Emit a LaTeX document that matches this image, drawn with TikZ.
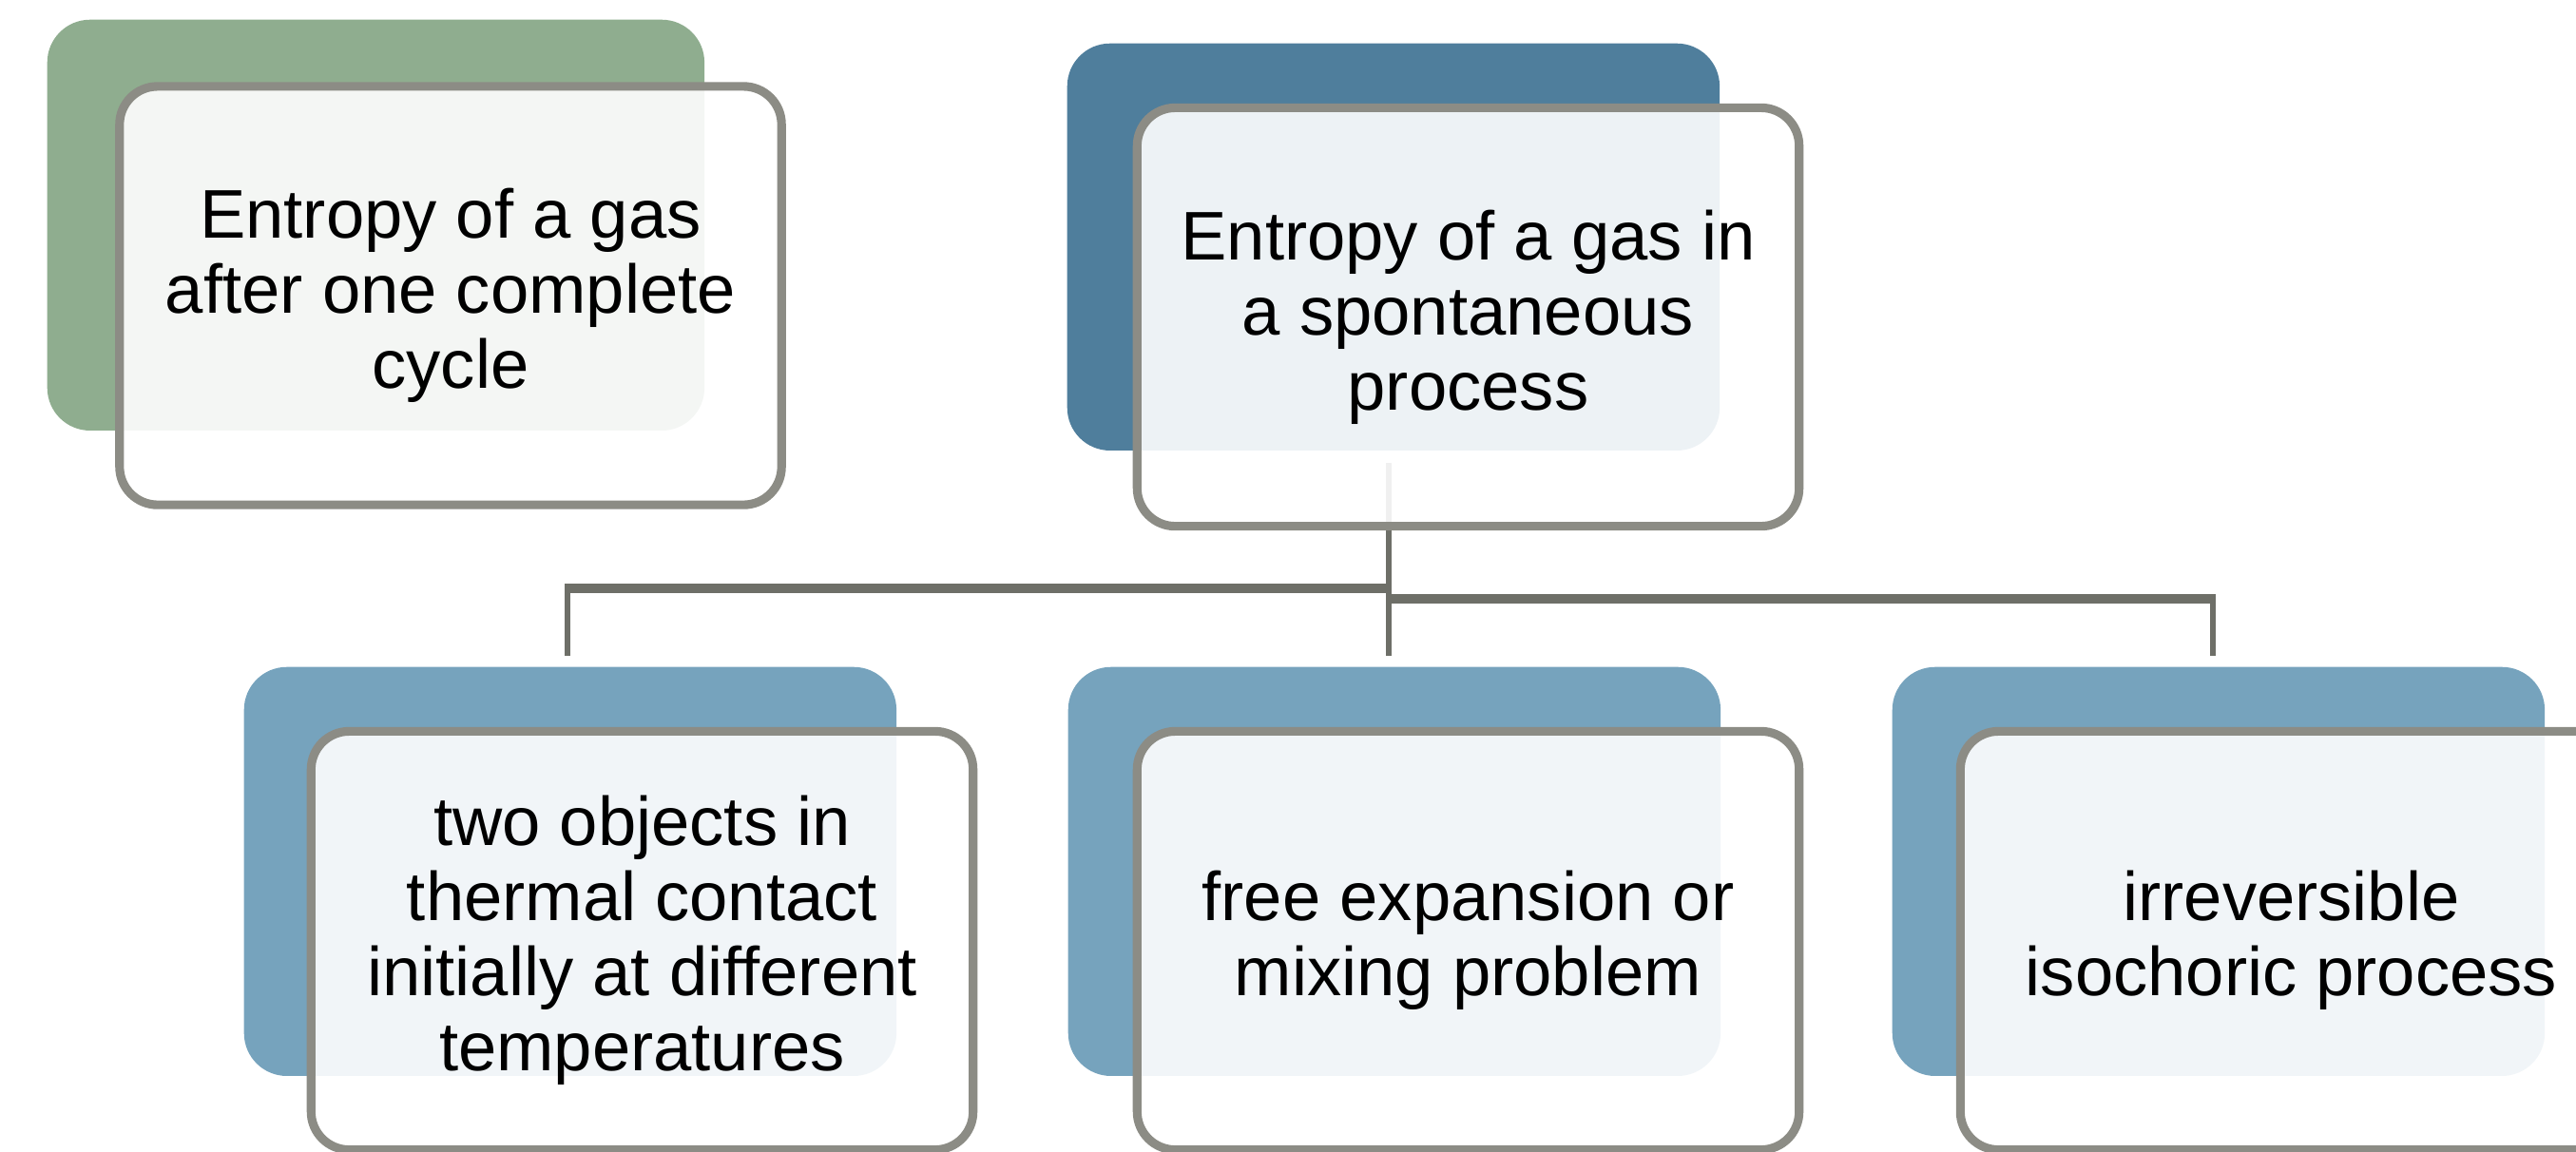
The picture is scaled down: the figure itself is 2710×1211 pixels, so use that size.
\documentclass[tikz,border=0pt]{standalone}
\usepackage{fontspec}
\setmainfont{Liberation Sans}
\usetikzlibrary{calc}
\definecolor{greenbk}{RGB}{143,173,143}
\definecolor{bluedk}{RGB}{79,126,156}
\definecolor{bluelt}{RGB}{118,163,189}
\definecolor{edgegray}{RGB}{140,140,133}
\definecolor{linkgray}{RGB}{110,111,104}
\tikzset{
 backbox/.style={rectangle, rounded corners=0.45cm, minimum width=6.86cm, minimum height=4.3cm, anchor=north west, inner sep=0pt, draw=none},
 frontbox/.style={rectangle, rounded corners=0.4cm, minimum width=6.96cm, minimum height=4.4cm, draw=edgegray, line width=2.6pt, fill=white, fill opacity=0.9, text opacity=1, text=black, align=center, font=\fontsize{20.6}{22.5}\selectfont, inner sep=0pt},
 trunk/.style={draw=linkgray, line width=1.7pt},
 bar/.style={draw=linkgray, line width=2.85pt},
}
\begin{document}
\begin{tikzpicture}[x=0.01cm,y=-0.01cm]
\useasboundingbox (0,0) rectangle (2710,1211);
\clip (0,0) rectangle (2710,1211);
% back boxes
\node[backbox, fill=greenbk, minimum width=6.91cm, minimum height=4.32cm] (gb) at (49,20) {};
\node[backbox, fill=bluedk, minimum height=4.28cm] (pb) at (1122,45) {};
\node[backbox, fill=bluelt] (lb) at (256,701) {};
\node[backbox, fill=bluelt] (mb) at (1123,701) {};
\node[backbox, fill=bluelt] (rb) at (1990,701) {};
% connectors
\coordinate (t0) at ($(pb.south)+(-5,12)$);
\coordinate (jc) at (t0 |- 0,619);
\coordinate (jr) at (t0 |- 0,630);
\coordinate (el) at ($(lb.north)+(-3,-11)$);
\coordinate (em) at ($(mb.north)+(-6,-11)$);
\coordinate (er) at ($(rb.north)+(-6,-11)$);
\draw[trunk] (t0) -- (em);
\draw[bar] (jc) -- (jc -| el);
\draw[trunk] ($(jc -| el)+(0,-5)$) -- (el);
\draw[bar] (jr) -- (jr -| er);
\draw[trunk] ($(jr -| er)+(0,-5)$) -- (er);
% front boxes
\node[frontbox] (g) at (474,311) {Entropy of a gas\\after one complete\\cycle};
\node[frontbox] (p) at (1544.5,333.5) {Entropy of a gas in\\a spontaneous\\process};
\node[frontbox] (l) at (675.5,989.5) {two objects in\\thermal contact\\initially at different\\temperatures};
\node[frontbox] (m) at (1544.5,989.5) {free expansion or\\mixing problem};
\node[frontbox] (r) at (2410.5,989.5) {irreversible\\isochoric process};
\end{tikzpicture}
\end{document}
